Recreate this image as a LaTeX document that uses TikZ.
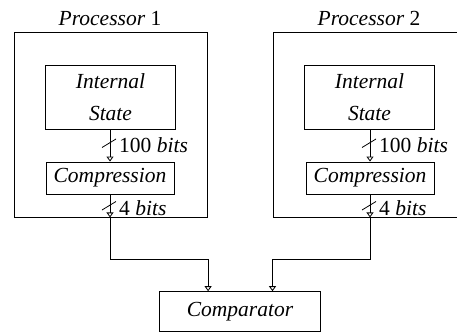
\documentclass[tikz,border=0pt]{standalone}
\usepackage{fontspec}
\setmainfont{Liberation Serif}
\usetikzlibrary{arrows.meta}
\begin{document}
\begin{tikzpicture}[x=1pt,y=-1pt,
  every node/.style={font=\fontsize{21.5}{32}\selectfont\itshape},
  box/.style={draw,line width=0.9pt,inner sep=0pt},
  arr/.style={line width=0.8pt,-{Triangle[open,length=5pt,width=7pt]}},
  wire/.style={line width=0.8pt},
  lab/.style={anchor=base west,inner sep=0pt}]
\clip (0,0) rectangle (457,332);
% processor boxes
\node[box,minimum width=193.7pt,minimum height=184.5pt] (p1) at (110.8,124.75) {};
\node[box,minimum width=193.7pt,minimum height=184.5pt] (p2) at (369.8,124.75) {};
\node[anchor=base] (t1) at (110,25) {Processor {\upshape 1}};
\node[anchor=base] (t2) at (369,25) {Processor {\upshape 2}};
% inner boxes
\node[box,minimum width=129.5pt,minimum height=64pt,align=center] (i1) at (110.5,97) {Internal\\State};
\node[box,minimum width=129.5pt,minimum height=64pt,align=center] (i2) at (369.5,97) {Internal\\State};
\node[box,minimum width=128pt,minimum height=32pt] (c1) at (110,178) {Compression};
\node[box,minimum width=128pt,minimum height=32pt] (c2) at (370,178) {Compression};
\node[box,minimum width=161.7pt,minimum height=39.3pt] (cmp) at (240,311.3) {Comparator};
% 100 bits arrows
\draw[arr] (i1.south -| c1.north) -- (c1.north);
\draw[arr] (i2.south -| c2.north) -- (c2.north);
\coordinate (s1a) at (102,147.5); \coordinate (s1b) at (116,139);
\coordinate (s2a) at (362,147.5); \coordinate (s2b) at (376,139);
\draw[wire] (s1a) -- (s1b);
\draw[wire] (s2a) -- (s2b);
\node[lab] (l1) at (119,152.7) {{\upshape 100} bits};
\node[lab] (l2) at (379,152.7) {{\upshape 100} bits};
% 4 bits arrows
\draw[arr] (c1.south) -- (c1.south |- p1.south);
\draw[arr] (c2.south) -- (c2.south |- p2.south);
\coordinate (s3a) at (102,210); \coordinate (s3b) at (116,201.5);
\coordinate (s4a) at (362,210); \coordinate (s4b) at (376,201.5);
\draw[wire] (s3a) -- (s3b);
\draw[wire] (s4a) -- (s4b);
\node[lab] (l3) at (119,215) {{\upshape 4} bits};
\node[lab] (l4) at (379,215) {{\upshape 4} bits};
% to comparator
\coordinate (j1) at (110,259.3);
\coordinate (j2) at (370,259.3);
\draw[arr] (c1.south |- p1.south) -- (j1) -| (cmp.north -| p1.east);
\draw[arr] (c2.south |- p2.south) -- (j2) -| (cmp.north -| p2.west);
\end{tikzpicture}
\end{document}
